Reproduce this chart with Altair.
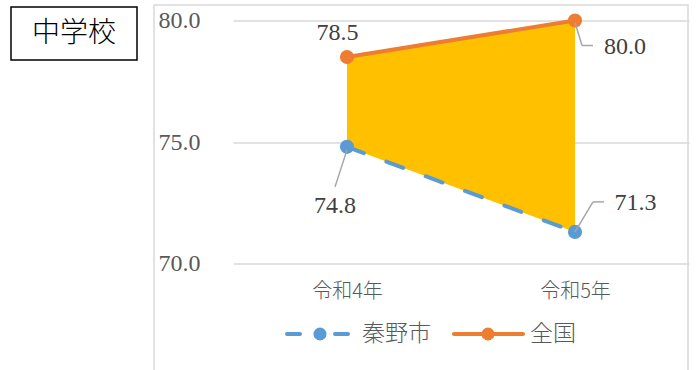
import altair as alt
import pandas as pd

# ---- data ----
years = ["令和4年", "令和5年"]
hadano = [74.8, 71.3]       # 秦野市
national = [78.5, 80.0]     # 全国
series = ["秦野市", "全国"]
y_ticks = [70.0, 75.0, 80.0]
panel_title = "中学校"

df = pd.DataFrame({"year": years, "hadano": hadano, "national": national})
one = pd.DataFrame({"k": [0]})

BLUE = "#5B9BD5"
ORANGE = "#ED7D31"
GOLD = "#FFC000"
GRID = "#D9D9D9"
TXT = "#595959"
SERIF = "Liberation Serif, DejaVu Serif, serif"
CJK = "Noto Sans CJK JP"
W, H = 456, 243

xenc = alt.X(
    "year:N", sort=years,
    scale=alt.Scale(type="point", padding=0.5),
    axis=alt.Axis(title=None, domain=False, ticks=False, grid=False,
                  labelFont=CJK, labelFontSize=20, labelFontWeight=300,
                  labelColor=TXT, labelPadding=18, labelAngle=0),
)
yscale = alt.Scale(domain=[70, 80], nice=False, zero=False)
yaxis = alt.Axis(title=None, domain=False, ticks=False, tickSize=0,
                 values=y_ticks, format=".1f", grid=True, gridColor=GRID,
                 gridWidth=1.5, labelAlign="left", labelPadding=75,
                 labelBaseline="middle", labelFont=SERIF, labelFontSize=24,
                 labelColor=TXT)

base = alt.Chart(df)

# outer frame
frame = alt.Chart(one).mark_rect(fillOpacity=0, stroke=GRID, strokeWidth=1.5).encode(
    x=alt.value(-79), x2=alt.value(455), y=alt.value(-15.5), y2=alt.value(400)
)

area = base.mark_area(color=GOLD, opacity=1).encode(
    x=xenc, y=alt.Y("hadano:Q", scale=yscale, axis=yaxis), y2="national:Q"
)

line_h = base.mark_line(color=BLUE, strokeWidth=4, strokeDash=[18, 24],
                        strokeCap="round").encode(
    x=xenc, y=alt.Y("hadano:Q", scale=yscale))
line_n = base.mark_line(color=ORANGE, strokeWidth=4).encode(
    x=xenc, y=alt.Y("national:Q", scale=yscale))
pts_h = base.mark_point(filled=True, color=BLUE, size=200, opacity=1).encode(
    x=xenc, y=alt.Y("hadano:Q", scale=yscale))
pts_n = base.mark_point(filled=True, color=ORANGE, size=200, opacity=1).encode(
    x=xenc, y=alt.Y("national:Q", scale=yscale))

LEAD = "#A6A6A6"


def leader(field, yr, xo, yo, x2o, y2o):
    return base.transform_filter(alt.datum.year == yr).mark_rule(
        color=LEAD, strokeWidth=1.5,
        xOffset=xo, yOffset=yo, x2Offset=x2o, y2Offset=y2o).encode(
        x=xenc, x2="year:N",
        y=alt.Y(f"{field}:Q", scale=yscale), y2=f"{field}:Q")


def label(field, yr, dx, dy):
    return base.transform_filter(alt.datum.year == yr).mark_text(
        font=SERIF, fontSize=24, color="#404040", dx=dx, dy=dy,
        baseline="middle", align="center").encode(
        x=xenc, y=alt.Y(f"{field}:Q", scale=yscale),
        text=alt.Text(f"{field}:Q", format=".1f"))


leaders = [
    leader("hadano", years[0], 0, 3, -12, 40),
    leader("national", years[1], 0, 2, 7, 25),
    leader("national", years[1], 7, 25, 18, 25),
    leader("hadano", years[1], 0, 0, 18, -30),
    leader("hadano", years[1], 18, -30, 29, -30),
]
labels = [
    label("national", years[0], -9.5, -24),
    label("hadano", years[0], -12, 59.5),
    label("national", years[1], 50, 26),
    label("hadano", years[1], 60.5, -29),
]

# legend (manual, Excel style)
LY = 313.5
leg = [
    alt.Chart(one).mark_rule(color=BLUE, strokeWidth=4, strokeCap="round").encode(
        x=alt.value(54), x2=alt.value(67), y=alt.value(LY)),
    alt.Chart(one).mark_rule(color=BLUE, strokeWidth=4, strokeCap="round").encode(
        x=alt.value(102), x2=alt.value(115), y=alt.value(LY)),
    alt.Chart(one).mark_point(filled=True, color=BLUE, size=170, opacity=1).encode(
        x=alt.value(87), y=alt.value(LY)),
    alt.Chart(one).mark_text(font=CJK, fontSize=23, fontWeight=300, color=TXT,
                             align="left", baseline="middle").encode(
        x=alt.value(129), y=alt.value(LY), text=alt.value(series[0])),
    alt.Chart(one).mark_rule(color=ORANGE, strokeWidth=4, strokeCap="round").encode(
        x=alt.value(221), x2=alt.value(290), y=alt.value(LY)),
    alt.Chart(one).mark_point(filled=True, color=ORANGE, size=170, opacity=1).encode(
        x=alt.value(255), y=alt.value(LY)),
    alt.Chart(one).mark_text(font=CJK, fontSize=23, fontWeight=300, color=TXT,
                             align="left", baseline="middle").encode(
        x=alt.value(297), y=alt.value(LY), text=alt.value(series[1])),
]

# panel title box
tbox = alt.Chart(one).mark_rect(fill="white", stroke="black", strokeWidth=1.5).encode(
    x=alt.value(-222), x2=alt.value(-96), y=alt.value(-13.5), y2=alt.value(39.5))
ttxt = alt.Chart(one).mark_text(font=CJK, fontSize=28, fontWeight=300, color="#000000",
                                align="center", baseline="middle").encode(
    x=alt.value(-159), y=alt.value(13.5), text=alt.value(panel_title))

chart = alt.layer(
    frame, area, line_h, line_n, pts_h, pts_n, *leaders, *labels, *leg, tbox, ttxt
).properties(
    width=W, height=H, autosize="none", background="white",
    padding={"left": 233, "top": 20.5, "right": 7, "bottom": 106.5},
).configure_view(stroke=None).configure_axis(domain=False, ticks=False)

chart.save("out.html", embed_options={"renderer": "svg", "actions": False})
